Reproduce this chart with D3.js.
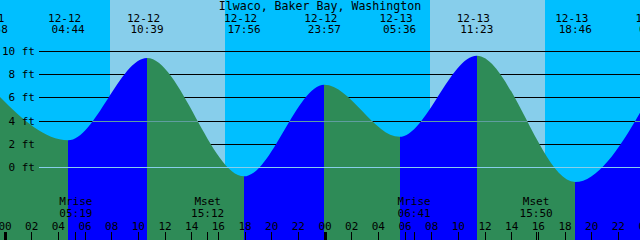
<!DOCTYPE html>
<html>
<head>
<meta charset="utf-8">
<script src="https://cdn.jsdelivr.net/npm/d3@7"></script>
<style>
  body { margin: 0; overflow: hidden; }
  svg { display: block; }
  text { font-family: "DejaVu Sans Mono", monospace; font-size: 11px; fill: #000; }
</style>
</head>
<body>
<div id="chart"></div>
<script>
// Datos de la tabla de mareas
const title = "Ilwaco, Baker Bay, Washington";
const tideTimes = ["2024-12-11 22:58", "2024-12-12 04:44", "2024-12-12 10:39", "2024-12-12 17:56",
                   "2024-12-12 23:57", "2024-12-13 05:36", "2024-12-13 11:23", "2024-12-13 18:46",
                   "2024-12-14 00:48"];
const tideHeights = [6.8, 2.3, 9.4, -0.8, 7.1, 2.6, 9.6, -1.3, 7.1];
const sunRise = ["2024-12-12 07:52", "2024-12-13 07:52"];
const sunSet = ["2024-12-12 16:30", "2024-12-13 16:30"];
const moonNames = ["Mrise", "Mset", "Mrise", "Mset"];
const moonTimes = ["2024-12-12 05:19", "2024-12-12 15:12", "2024-12-13 06:41", "2024-12-13 15:50"];
const depthTicks = [0, 2, 4, 6, 8, 10];

const width = 640, height = 240;
const parse = d3.timeParse("%Y-%m-%d %H:%M");
const fmtDate = d3.timeFormat("%m-%d");
const fmtTime = d3.timeFormat("%H:%M");
const fmtHour = d3.timeFormat("%H");

const tides = tideTimes.map((t, i) => ({ time: parse(t), h: tideHeights[i] }));

// Escalas: 48 horas en 640 px, medianoche del 12-12 en x=5
const start = new Date(parse("2024-12-12 00:00").getTime() - 22.5 * 60000);
const end = d3.timeHour.offset(start, 48);
const x = d3.scaleTime().domain([start, end]).range([0, width]);
const y = d3.scaleLinear().domain([0, 10]).range([167, 51]);

const svg = d3.select("#chart").append("svg")
  .attr("width", width)
  .attr("height", height);

// Fondo nocturno
svg.append("rect")
  .attr("width", width).attr("height", height)
  .attr("fill", "#00bfff");

// Franjas diurnas
svg.selectAll(".day")
  .data(sunRise.map((s, i) => [parse(s), parse(sunSet[i])]))
  .enter().append("rect")
  .attr("class", "day")
  .attr("x", d => Math.round(x(d[0])))
  .attr("y", 0)
  .attr("width", d => Math.round(x(d[1])) - Math.round(x(d[0])))
  .attr("height", height)
  .attr("fill", "#87ceeb");

// Lineas de profundidad (detras de la marea)
svg.selectAll(".grid")
  .data(depthTicks.filter(d => d !== 0))
  .enter().append("line")
  .attr("class", "grid")
  .attr("x1", 39).attr("x2", width)
  .attr("y1", d => Math.round(y(d)) + 0.5)
  .attr("y2", d => Math.round(y(d)) + 0.5)
  .attr("stroke", "#000")
  .attr("shape-rendering", "crispEdges");

// Area de la marea
const area = d3.area()
  .x(d => x(d.time))
  .y0(height)
  .y1(d => y(d.h))
  .curve(d3.curveMonotoneX);

// Se repiten los extremos para que la curva tambien quede plana en los bordes
svg.append("clipPath")
  .attr("id", "tide-clip")
  .append("path")
  .attr("d", area([tides[0], ...tides, tides[tides.length - 1]]));

const tideG = svg.append("g").attr("clip-path", "url(#tide-clip)");

// Verde bajando, azul subiendo
tideG.selectAll(".seg")
  .data(d3.pairs(tides))
  .enter().append("rect")
  .attr("class", "seg")
  .attr("x", d => x(d[0].time))
  .attr("y", 0)
  .attr("width", d => x(d[1].time) - x(d[0].time))
  .attr("height", height)
  .attr("fill", d => d[1].h > d[0].h ? "#0000ff" : "#2e8b57")
  .attr("shape-rendering", "crispEdges");

// Linea media (4 ft) sobre la marea
tideG.append("line")
  .attr("x1", 39).attr("x2", width)
  .attr("y1", Math.round(y(4)) + 0.5)
  .attr("y2", Math.round(y(4)) + 0.5)
  .attr("stroke", "#5f9ea0")
  .attr("shape-rendering", "crispEdges");

// Linea de 0 ft
svg.append("line")
  .attr("x1", 39).attr("x2", width)
  .attr("y1", Math.round(y(0)) + 0.5)
  .attr("y2", Math.round(y(0)) + 0.5)
  .attr("stroke", "#87ceeb")
  .attr("shape-rendering", "crispEdges");

// Etiquetas de profundidad
svg.selectAll(".ylab")
  .data(depthTicks)
  .enter().append("text")
  .attr("class", "ylab")
  .attr("x", 35)
  .attr("y", d => y(d) + 4)
  .attr("text-anchor", "end")
  .text(d => d + " ft");

// Titulo
svg.append("text")
  .attr("x", width / 2).attr("y", 10)
  .attr("text-anchor", "middle")
  .style("font-size", "11.6px")
  .text(title);

// Fechas y horas de pleamar / bajamar
svg.selectAll(".tdate")
  .data(tides)
  .enter().append("text")
  .attr("class", "tdate")
  .attr("x", d => x(d.time) - 3.5)
  .attr("y", 21.5)
  .attr("text-anchor", "middle")
  .text(d => fmtDate(d.time));

svg.selectAll(".ttime")
  .data(tides)
  .enter().append("text")
  .attr("class", "ttime")
  .attr("x", d => x(d.time))
  .attr("y", 33)
  .attr("text-anchor", "middle")
  .text(d => fmtTime(d.time));

// Eje horario
const hours = d3.timeHour.every(2).range(d3.timeHour.offset(start, -1), d3.timeHour.offset(end, 1));

svg.selectAll(".hlab")
  .data(hours)
  .enter().append("text")
  .attr("class", "hlab")
  .attr("x", d => x(d))
  .attr("y", 230)
  .attr("text-anchor", "middle")
  .text(d => fmtHour(d));

svg.selectAll(".htick")
  .data(hours)
  .enter().append("rect")
  .attr("class", "htick")
  .attr("x", d => d.getHours() === 0 ? Math.round(x(d)) - 1 : Math.floor(x(d)))
  .attr("y", 232)
  .attr("width", d => d.getHours() === 0 ? 3 : 1)
  .attr("height", 8)
  .attr("fill", "#000")
  .attr("shape-rendering", "crispEdges");

// Salida y puesta de la luna
const moon = moonTimes.map((t, i) => ({ time: parse(t), name: moonNames[i] }));

svg.selectAll(".mtick")
  .data(moon)
  .enter().append("rect")
  .attr("class", "mtick")
  .attr("x", d => Math.floor(x(d.time)))
  .attr("y", 232)
  .attr("width", 1)
  .attr("height", 8)
  .attr("fill", "#000")
  .attr("shape-rendering", "crispEdges");

svg.selectAll(".mname")
  .data(moon)
  .enter().append("text")
  .attr("class", "mname")
  .attr("x", d => x(d.time))
  .attr("y", 205)
  .attr("text-anchor", "middle")
  .text(d => d.name);

svg.selectAll(".mtime")
  .data(moon)
  .enter().append("text")
  .attr("class", "mtime")
  .attr("x", d => x(d.time))
  .attr("y", 217)
  .attr("text-anchor", "middle")
  .text(d => fmtTime(d.time));
</script>
</body>
</html>
